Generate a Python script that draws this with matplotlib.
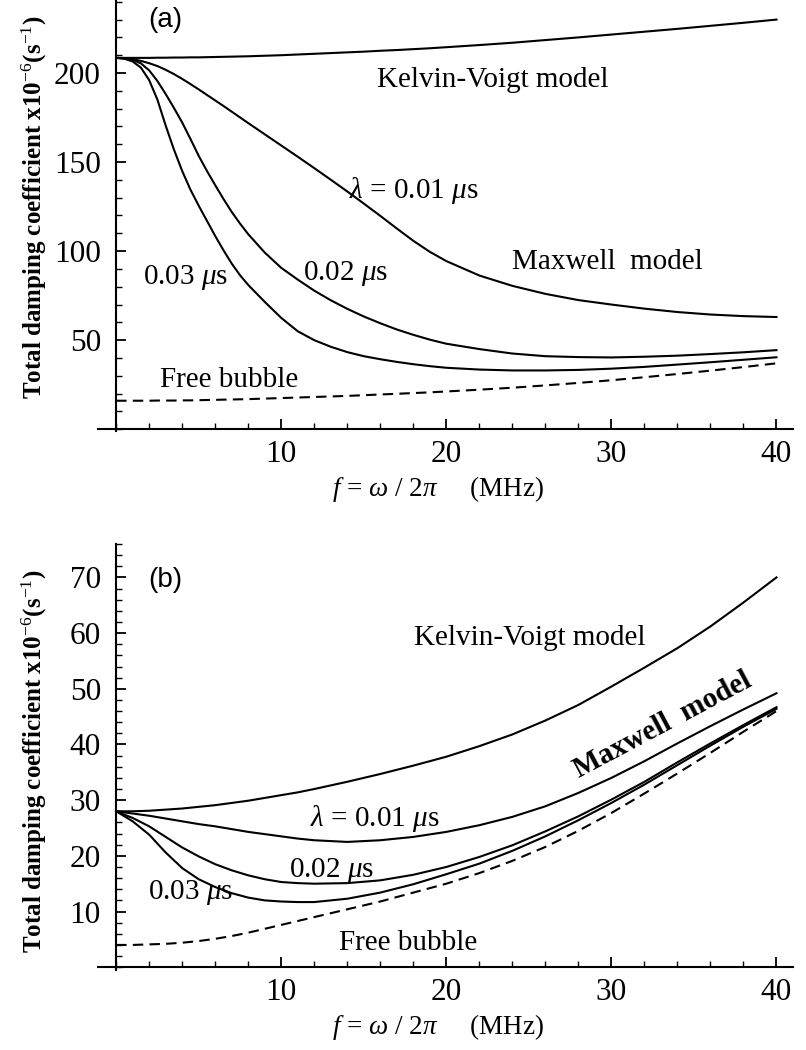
import matplotlib
matplotlib.use("Agg")
import matplotlib.pyplot as plt
from matplotlib.ticker import MultipleLocator

plt.rcParams['font.family'] = ['Liberation Serif', 'DejaVu Serif']
plt.rcParams['mathtext.fontset'] = 'custom'
plt.rcParams['mathtext.rm'] = 'Liberation Serif'
plt.rcParams['mathtext.it'] = 'Liberation Serif:italic'
plt.rcParams['mathtext.bf'] = 'Liberation Serif:bold'

# ---------------- data: panel (a) ----------------
freq_a = [0, 0.5, 1, 1.5, 2, 2.5, 3, 3.5, 4, 4.5, 5, 5.5, 6, 6.5, 7, 7.5, 8,
          9, 10, 11, 12, 13, 14, 15, 16, 17, 18, 19, 20,
          22, 24, 26, 28, 30, 32, 34, 36, 38, 40]
kv_a = [208.5, 208.5, 208.5, 208.5, 208.5, 208.6, 208.6, 208.7, 208.7, 208.8, 208.8, 208.9, 209.0,
        209.1, 209.2, 209.3, 209.4,
        209.7, 210.0, 210.4, 210.8, 211.2, 211.6, 212.0, 212.5, 212.9, 213.4, 213.9, 214.5,
        215.7, 217.0, 218.5, 220.0, 221.6, 223.2, 224.8, 226.5, 228.2, 230.0]
mx01_a = [208.5, 208.3, 207.8, 206.8, 205.5, 203.9, 201.8, 199.4, 196.7, 193.8, 190.8, 187.7, 184.6,
          181.5, 178.3, 175.1, 171.9,
          165.6, 159.3, 153.0, 146.6, 140.1, 133.5, 126.7, 119.8, 112.7, 105.8, 99.6, 94.4,
          86.3, 80.5, 76.0, 72.5, 70.0, 67.7, 65.8, 64.4, 63.5, 63.0]
mx02_a = [208.5, 208.3, 207.4, 205.4, 201.5, 195.5, 188.2, 180.4, 172.2, 163.0, 153.5, 145.0, 137.0,
          129.3, 122.0, 115.5, 109.5,
          99.2, 90.6, 84.0, 77.8, 72.4, 67.6, 63.3, 59.5, 56.0, 53.0, 50.3, 48.0,
          45.0, 42.5, 41.0, 40.5, 40.3, 40.7, 41.3, 42.2, 43.2, 44.4]
mx03_a = [208.5, 208.0, 206.5, 203.0, 196.0, 185.0, 170.5, 157.0, 145.0, 134.5, 125.5, 117.0, 108.5,
          100.5, 93.0, 86.5, 81.0,
          71.5, 62.5, 55.0, 50.0, 46.3, 43.3, 41.0, 39.3, 37.8, 36.5, 35.4, 34.5,
          33.5, 33.0, 33.0, 33.3, 34.0, 35.0, 36.3, 37.6, 39.0, 40.4]
free_a = [16.0, 16.0, 16.0, 16.0, 16.0, 16.1, 16.1, 16.1, 16.2, 16.2, 16.3, 16.4, 16.5,
          16.6, 16.7, 16.8, 16.9,
          17.2, 17.5, 17.8, 18.1, 18.4, 18.7, 19.1, 19.5, 19.9, 20.3, 20.7, 21.2,
          22.2, 23.3, 24.6, 26.0, 27.5, 29.2, 31.0, 32.9, 34.9, 37.0]

# ---------------- data: panel (b) ----------------
freq_b = [0, 1, 2, 3, 4, 5, 6, 7, 8, 9, 10, 11, 12, 14, 16, 18, 20, 22, 24, 26, 28, 30, 32, 34, 36, 38, 40]
kv_b = [28.0, 28.0, 28.1, 28.3, 28.5, 28.8, 29.1, 29.5, 29.9, 30.4, 30.9, 31.4, 32.0,
        33.3, 34.7, 36.2, 37.8, 39.7, 41.8, 44.3, 47.1, 50.4, 53.8, 57.3, 61.2, 65.5, 70.0]
mx01_b = [28.0, 27.6, 27.2, 26.7, 26.2, 25.7, 25.3, 24.8, 24.3, 23.9, 23.5, 23.1, 22.8,
          22.5, 22.8, 23.4, 24.3, 25.5, 27.0, 28.9, 31.3, 34.0, 37.0, 40.2, 43.3, 46.3, 49.2]
mx02_b = [28.0, 26.8, 25.3, 23.4, 21.5, 19.9, 18.5, 17.4, 16.5, 15.8, 15.3, 15.1, 15.0,
          15.1, 15.6, 16.6, 18.0, 19.8, 21.9, 24.4, 27.1, 30.1, 33.3, 36.8, 40.2, 43.5, 46.7]
mx03_b = [28.0, 26.2, 23.8, 20.6, 17.8, 15.8, 14.4, 13.3, 12.5, 12.0, 11.8, 11.7, 11.7,
          12.3, 13.4, 14.9, 16.7, 18.6, 20.9, 23.5, 26.4, 29.5, 32.8, 36.3, 39.8, 43.2, 46.4]
free_b = [4.0, 4.0, 4.1, 4.2, 4.4, 4.7, 5.1, 5.6, 6.2, 6.9, 7.6, 8.3, 9.0,
          10.4, 11.8, 13.4, 15.0, 16.9, 19.1, 21.6, 24.5, 27.7, 31.2, 34.8, 38.5, 42.3, 46.0]

ylabel_text = r'Total damping coefficient x10$^{-6}$(s$^{-1}$)'
xlabel_text = r'$f$ = $\omega$ / 2$\pi$     (MHz)'

W, H = 806, 1050
fig = plt.figure(figsize=(W / 100, H / 100), dpi=100)

ax_a = fig.add_axes([98 / W, 1 - 431 / H, 695 / W, 431 / H])
ax_b = fig.add_axes([98 / W, 1 - 970 / H, 695 / W, 426 / H])

lw = 1.5
for ax, fr, kv, m1, m2, m3, fb in [(ax_a, freq_a, kv_a, mx01_a, mx02_a, mx03_a, free_a),
                                    (ax_b, freq_b, kv_b, mx01_b, mx02_b, mx03_b, free_b)]:
    ax.plot(fr, kv, color='black', lw=lw)
    ax.plot(fr, m1, color='black', lw=lw)
    ax.plot(fr, m2, color='black', lw=lw)
    ax.plot(fr, m3, color='black', lw=lw)
    ax.plot(fr, fb, color='black', lw=lw, dashes=(5, 3))
    ax.set_xlim(-1.1, 41)
    ax.spines['top'].set_visible(False)
    ax.spines['right'].set_visible(False)
    ax.spines['left'].set_position(('data', 0))
    ax.spines['bottom'].set_position(('data', 0))
    ax.spines['left'].set_linewidth(1.5)
    ax.spines['bottom'].set_linewidth(1.5)
    ax.xaxis.set_major_locator(MultipleLocator(10))
    ax.xaxis.set_minor_locator(MultipleLocator(2))
    ax.tick_params(which='major', direction='in', length=7, width=1.3, labelsize=22.5, pad=8)
    ax.tick_params(which='minor', direction='in', length=4, width=1.0)
    ax.tick_params(axis='y', which='major', pad=11)
    ax.set_xticks([10, 20, 30, 40])
    ax.set_ylabel(ylabel_text, fontsize=18, fontweight='bold')
    ax.set_xlabel(xlabel_text, fontsize=19.5)
    ax.patch.set_visible(False)

ax_a.set_ylim(-1, 241)
ax_a.yaxis.set_minor_locator(MultipleLocator(10))
ax_a.set_yticks([50, 100, 150, 200])
ax_a.yaxis.set_label_coords(-0.071, 0.52)
ax_a.xaxis.set_label_coords(0.49, -0.10)

ax_b.set_ylim(-0.5, 76)
ax_b.yaxis.set_minor_locator(MultipleLocator(2))
ax_b.set_yticks([10, 20, 30, 40, 50, 60, 70])
ax_b.yaxis.set_label_coords(-0.071, 0.49)
ax_b.xaxis.set_label_coords(0.49, -0.098)

fs = 21
sans = ['Liberation Sans', 'DejaVu Sans']
# panel (a) annotations
ax_a.text(1.93, 229.8, '(a)', fontsize=20, family=sans, ha='left', va='center')
ax_a.text(15.8, 196, 'Kelvin-Voigt model', fontsize=fs, ha='left', va='center')
ax_a.text(14.1, 134.3, r'$\lambda$ = 0.01 $\mu$s', fontsize=fs, ha='left', va='center')
ax_a.text(24.0, 93.8, 'Maxwell  model', fontsize=fs, ha='left', va='center')
ax_a.text(11.3, 87.6, r'0.02 $\mu$s', fontsize=fs, ha='left', va='center')
ax_a.text(1.63, 85.4, r'0.03 $\mu$s', fontsize=fs, ha='left', va='center')
ax_a.text(2.66, 27.5, 'Free bubble', fontsize=fs, ha='left', va='center')

# panel (b) annotations
ax_b.text(1.93, 69.5, '(b)', fontsize=20, family=sans, ha='left', va='center')
ax_b.text(18.07, 59.1, 'Kelvin-Voigt model', fontsize=fs, ha='left', va='center')
ax_b.text(11.72, 26.75, r'$\lambda$ = 0.01 $\mu$s', fontsize=fs, ha='left', va='center')
ax_b.text(10.5, 17.4, r'0.02 $\mu$s', fontsize=fs, ha='left', va='center')
ax_b.text(1.93, 13.5, r'0.03 $\mu$s', fontsize=fs, ha='left', va='center')
ax_b.text(13.5, 4.3, 'Free bubble', fontsize=fs, ha='left', va='center')
ax_b.text(33.1, 43.4, 'Maxwell  model', fontsize=fs, fontweight='bold', rotation=28,
          ha='center', va='center', rotation_mode='anchor')

fig.savefig('out.png', dpi=100)
